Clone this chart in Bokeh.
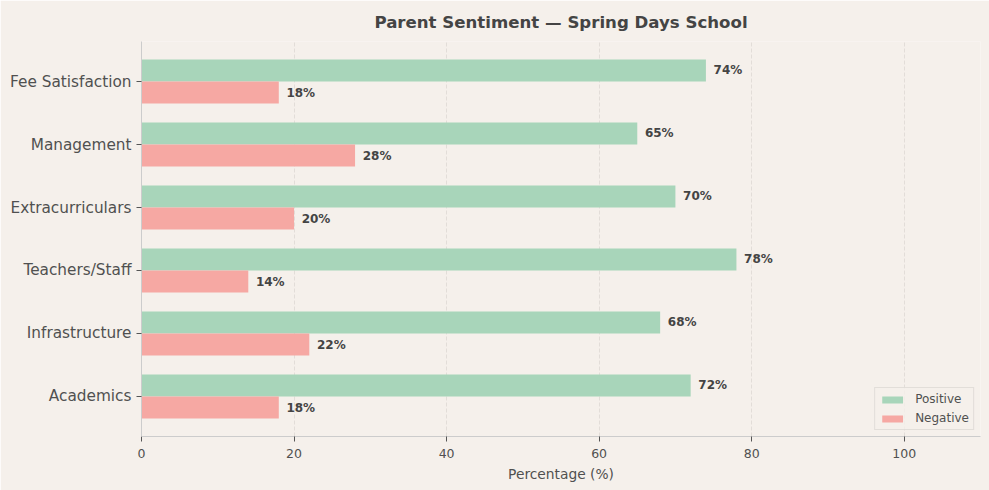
from bokeh.plotting import figure
from bokeh.models import ColumnDataSource, Range1d, FixedTicker
from bokeh.transform import dodge
from bokeh.core.properties import value
from bokeh.embed import file_html
from bokeh.resources import INLINE

categories = ["Academics", "Infrastructure", "Teachers/Staff", "Extracurriculars", "Management", "Fee Satisfaction"]
positive = [72, 68, 78, 70, 65, 74]
negative = [18, 22, 14, 20, 28, 18]
x_ticks = [0, 20, 40, 60, 80, 100]

BG = "#f5f0eb"
TXT = "#444444"
TICK_TXT = "#505050"
GREEN = "#a8d5ba"
RED = "#f6a8a3"
FONT = "DejaVu Sans"

idx = list(range(len(categories)))
src = ColumnDataSource(dict(
    y=idx,
    pos=positive,
    neg=negative,
    pos_lbl=[f"{v}%" for v in positive],
    neg_lbl=[f"{v}%" for v in negative],
))

p = figure(width=989, height=490, output_backend="svg", toolbar_location=None,
           x_range=Range1d(0, 110), y_range=Range1d(-0.635, 5.635),
           min_border_left=141, min_border_right=9, min_border_top=41, min_border_bottom=54)

p.background_fill_color = BG
p.border_fill_color = BG
p.outline_line_color = None

bar_h = 0.35
p.hbar(y=dodge("y", bar_h / 2), right="pos", left=0, height=bar_h, source=src,
       fill_color=GREEN, line_color=None, legend_label="Positive")
p.hbar(y=dodge("y", -bar_h / 2), right="neg", left=0, height=bar_h, source=src,
       fill_color=RED, line_color=None, legend_label="Negative")

p.text(x=dodge("pos", 1), y=dodge("y", bar_h / 2), text="pos_lbl", source=src,
       text_font=value(FONT), text_font_size="12px", text_font_style="bold",
       text_color=TXT, text_baseline="middle", text_align="left")
p.text(x=dodge("neg", 1), y=dodge("y", -bar_h / 2), text="neg_lbl", source=src,
       text_font=value(FONT), text_font_size="12px", text_font_style="bold",
       text_color=TXT, text_baseline="middle", text_align="left")

# title
p.title.text = "Parent Sentiment \u2014 Spring Days School"
p.title.align = "center"
p.title.text_font = FONT
p.title.text_font_size = "16.6px"
p.title.text_font_style = "bold"
p.title.text_color = TXT
p.title.standoff = 19

# axes
xa = p.xaxis[0]
xa.ticker = FixedTicker(ticks=x_ticks)
xa.axis_label = "Percentage (%)"
xa.axis_label_text_font = FONT
xa.axis_label_text_font_size = "13.8px"
xa.axis_label_text_font_style = "normal"
xa.axis_label_text_color = TICK_TXT
xa.axis_label_standoff = 5
xa.major_label_standoff = 7
xa.major_label_text_font = FONT
xa.major_label_text_font_size = "12.5px"
xa.major_label_text_color = TICK_TXT
xa.axis_line_color = "#cccccc"
xa.major_tick_line_color = "#555555"
xa.major_tick_out = 5
xa.major_tick_in = 0
xa.minor_tick_line_color = None

ya = p.yaxis[0]
ya.ticker = FixedTicker(ticks=idx)
ya.major_label_overrides = {i: c for i, c in zip(idx, categories)}
ya.major_label_text_font = FONT
ya.major_label_text_font_size = "15.3px"
ya.major_label_text_color = TICK_TXT
ya.axis_line_color = "#cccccc"
ya.major_tick_line_color = "#555555"
ya.major_tick_out = 5
ya.major_tick_in = 0
ya.minor_tick_line_color = None

# grid
p.ygrid.grid_line_color = None
p.xgrid.ticker = FixedTicker(ticks=x_ticks)
p.xgrid.grid_line_color = "#e2ddd8"
p.xgrid.grid_line_dash = "4 2"
p.xgrid.grid_line_width = 1

# legend
lg = p.legend[0]
lg.location = "bottom_right"
lg.margin = 6
lg.padding = 4
lg.spacing = 5
lg.glyph_width = 26
lg.glyph_height = 9
lg.label_height = 14
lg.label_standoff = 10
lg.label_text_font = FONT
lg.label_text_font_size = "12px"
lg.label_text_color = TICK_TXT
lg.background_fill_color = BG
lg.background_fill_alpha = 0.8
lg.border_line_color = "#d0ccc8"
lg.border_line_width = 1

open("out.html", "w").write(file_html(p, INLINE))
